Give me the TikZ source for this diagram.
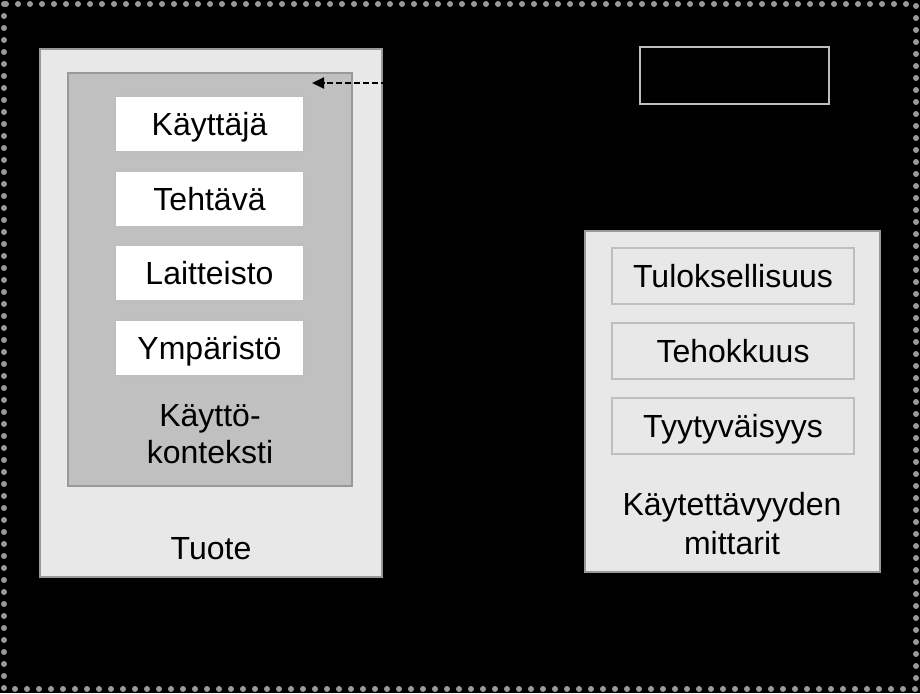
\documentclass[tikz,border=0pt]{standalone}
\usepackage{fontspec}
\setmainfont{Liberation Sans}
\usetikzlibrary{arrows.meta}
\definecolor{outerfill}{HTML}{E8E8E8}
\definecolor{outerline}{HTML}{999999}
\definecolor{ctxfill}{HTML}{C0C0C0}
\definecolor{innerline}{HTML}{BEBEBE}
\definecolor{dotcol}{HTML}{999999}
\begin{document}
\begin{tikzpicture}[x=1pt,y=-1pt,
  every node/.style={font=\fontsize{32}{37}\selectfont, inner sep=0pt},
  bigbox/.style={draw=outerline, fill=outerfill, line width=2pt, rectangle},
  ctxbox/.style={draw=outerline, fill=ctxfill, line width=2pt, rectangle},
  whitebox/.style={draw=innerline, fill=white, line width=2pt, rectangle,
    minimum width=189pt, minimum height=56pt, text height=23pt, text depth=0pt},
  metricbox/.style={draw=innerline, fill=outerfill, line width=2pt, rectangle,
    minimum width=242pt, minimum height=56pt, text height=23pt, text depth=0pt},
  label/.style={align=center}
]
\fill[black] (0,0) rectangle (920,693);
\useasboundingbox (0,0) rectangle (920,693);
\draw[dotcol, line width=6pt, dash pattern=on 0pt off 12pt, line cap=round] (4,4) rectangle (916,689);

% Tuote
\node[bigbox, minimum width=342pt, minimum height=528pt] (tuote) at (211,313) {};
\node[ctxbox, minimum width=284pt, minimum height=413pt] (ctx) at (210,279.5) {};
\node[whitebox] (kayttaja) at (209.5,124) {Käyttäjä};
\node[whitebox] (tehtava) at (209.5,199) {Tehtävä};
\node[whitebox] (laitteisto) at (209.5,273) {Laitteisto};
\node[whitebox] (ymparisto) at (209.5,348) {Ympäristö};
\node[label, anchor=base] (ctxlabel) at (210,463.5) {Käyttö-\\konteksti};
\node[anchor=base] (tuotelabel) at (211,559.5) {Tuote};

% Mittarit
\node[bigbox, minimum width=295pt, minimum height=341pt] (mittarit) at (732.5,401.5) {};
\node[metricbox] (tulos) at (733,276) {Tuloksellisuus};
\node[metricbox] (teho) at (733,351) {Tehokkuus};
\node[metricbox] (tyyty) at (733,426) {Tyytyväisyys};
\node[label, anchor=base, font=\fontsize{32}{39}\selectfont] (mlabel) at (732,554) {Käytettävyyden\\mittarit};

% top-right box
\node[draw=innerline, fill=black, line width=2pt, rectangle, minimum width=189pt, minimum height=56pt] (tr) at (734.5,75.5) {};

% dashed arrow
\coordinate (arrowend) at (312,83);
\draw[black, line width=2pt, dash pattern=on 6pt off 3pt, -{Triangle[length=12pt,width=11pt]}]
  (arrowend -| tr.west) -- (arrowend);
\end{tikzpicture}
\end{document}
